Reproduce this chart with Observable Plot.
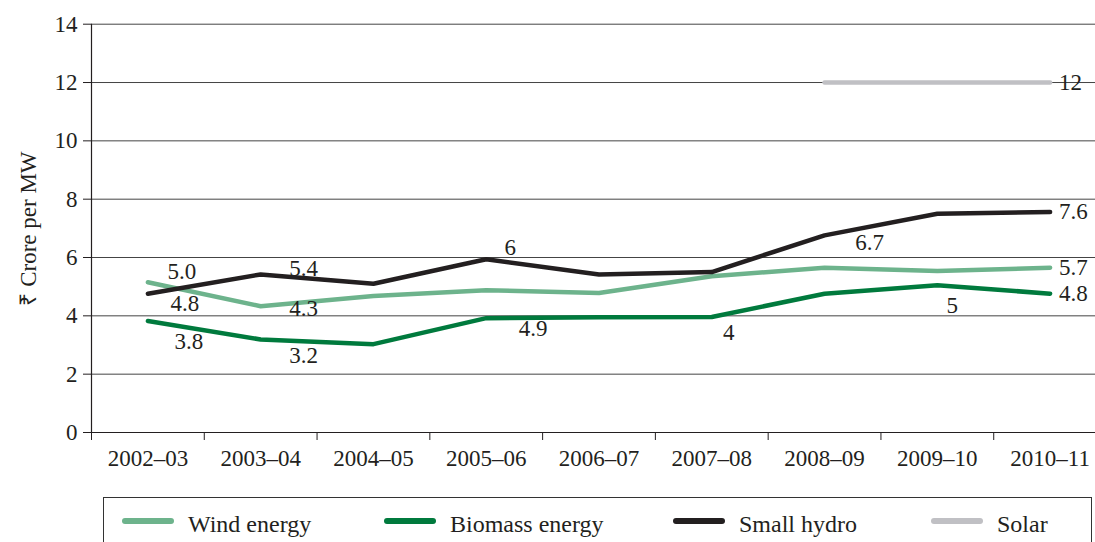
<!DOCTYPE html>
<html><head><meta charset="utf-8">
<script src="https://cdn.jsdelivr.net/npm/d3@7"></script>
<script src="https://cdn.jsdelivr.net/npm/@observablehq/plot@0.6"></script>
<style>
body{margin:0;background:#fff;font-family:'Liberation Serif','Times New Roman',serif;}
#wrap{position:relative;width:1095px;height:542px;overflow:hidden;}
#chart svg{display:block;}
#legend{position:absolute;left:103px;top:497px;width:989px;height:60px;border:1px solid #333;box-sizing:border-box;}
.item{position:absolute;top:12px;display:flex;align-items:center;font-family:'Liberation Serif',serif;font-size:24px;color:#231f20;line-height:28px;}
.sw{width:52px;height:6px;border-radius:3px;margin-right:14px;position:relative;top:-3px;}
</style></head><body>
<div id="wrap"><div id="chart"></div><div id="legend"></div></div>
<script>
const years = ["2002–03","2003–04","2004–05","2005–06","2006–07","2007–08","2008–09","2009–10","2010–11"];
const seriesNames = ["Wind energy","Biomass energy","Small hydro","Solar"];
const seriesColors = ["#6db38c","#007a3d","#231f20","#c0c0c4"];
const wind    = [5.15,4.33,4.68,4.88,4.78,5.36,5.65,5.54,5.65];
const biomass = [3.82,3.19,3.03,3.92,3.95,3.96,4.76,5.05,4.76];
const hydro   = [4.76,5.42,5.10,5.94,5.42,5.50,6.76,7.50,7.56];
const solar   = [null,null,null,null,null,null,12,12,12];
const yTicks  = [0,2,4,6,8,10,12,14];

// value labels: [series index, year index, text]
const labelSeries = [2,2,1,2,0,1,2,0,1,2,1,2,0,1,3];
const labelYear   = [0,0,0,1,1,1,3,3,5,6,7,8,8,8,8];
const labelTexts  = ["5.0","4.8","3.8","5.4","4.3","3.2","6","4.9","4","6.7","5","7.6","5.7","4.8","12"];
// placement offsets (style)
const labelDx = [34,37,41,43,43,43,24,47,17,45,15,9,9,9,9];
const labelDy = [-22,10,21,-6,2,16,-12,38,16,7,20,0,0,0,0];

const values = [wind,biomass,hydro,solar];
const rows = [];
values.forEach((arr,s)=>arr.forEach((v,i)=>{ if(v!=null) rows.push({series:seriesNames[s], i, v}); }));

const textColor = "#231f20";
const font = "'Liberation Serif', 'Times New Roman', serif";
const fs = 23;

const labelMarks = labelTexts.map((t,k)=>Plot.text([{i:labelYear[k], v:values[labelSeries[k]][labelYear[k]], t}], {
  x:"i", y:"v", text:"t", dx:labelDx[k], dy:labelDy[k],
  textAnchor: labelYear[k]===8 ? "start" : "middle",
  fontSize:fs, fill:textColor, fontFamily:font
}));

const boundaries = d3.range(-0.5, 9, 1);

const plot = Plot.plot({
  width:1095, height:490,
  marginLeft:91, marginRight:0, marginTop:24, marginBottom:58,
  style:{fontFamily:font, fontSize:fs+"px", color:textColor, background:"#fff"},
  x:{type:"linear", domain:[-0.5,8.5], range:[91,1106], label:null},
  y:{domain:[0,14], range:[432,23.7]},
  color:{domain:seriesNames, range:seriesColors},
  marks:[
    Plot.ruleY(yTicks.filter(d=>d>0), {stroke:"#444", strokeWidth:1}),
    Plot.axisY({ticks:yTicks, tickSize:8, tickPadding:6, fontSize:fs, fontFamily:font, label:"₹ Crore per MW", labelAnchor:"center", labelArrow:"none", labelOffset:72, stroke:textColor}),
    Plot.axisX({ticks:boundaries, tickSize:8, tickFormat:()=>"", label:null, stroke:textColor}),
    Plot.axisX({ticks:d3.range(9), tickSize:0, tickPadding:17, tickFormat:i=>years[i], label:null, fontSize:fs, fontFamily:font}),
    Plot.ruleY([0], {stroke:textColor, strokeWidth:1.2}),
    Plot.ruleX([-0.5], {y1:0, y2:14, stroke:textColor, strokeWidth:1.2}),
    Plot.line(rows, {x:"i", y:"v", z:"series", stroke:"series", strokeWidth:4.5, strokeLinecap:"round", strokeLinejoin:"round"}),
    ...labelMarks
  ]
});
document.getElementById("chart").appendChild(plot);

const legendPos = [18,280,569,827];
const legend = document.getElementById("legend");
seriesNames.forEach((n,k)=>{
  const it = document.createElement("div");
  it.className="item"; it.style.left = legendPos[k]+"px";
  it.innerHTML = `<span class="sw" style="background:${seriesColors[k]}"></span><span>${n}</span>`;
  legend.appendChild(it);
});
</script>
</body></html>
